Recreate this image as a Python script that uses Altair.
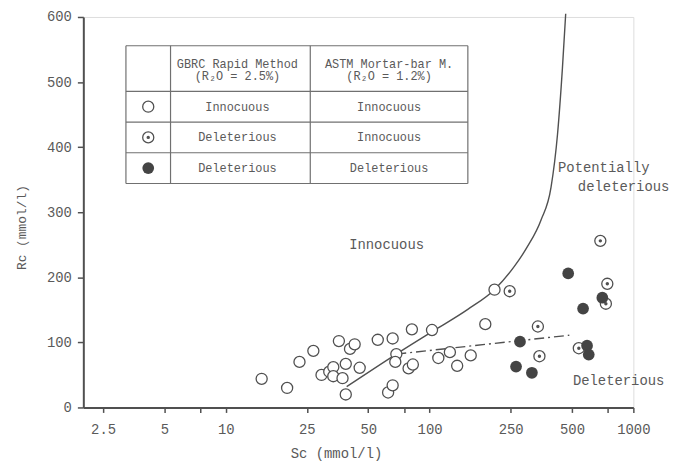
import altair as alt
import pandas as pd

# ---------------- data ----------------
open_sc = [15.0, 20.0, 23.0, 26.9, 29.5, 32.2, 33.7, 33.7, 35.9, 37.4, 38.8, 38.8, 40.7, 42.9,
           45.4, 55.7, 62.6, 65.9, 65.9, 68.7, 67.9, 81.9, 78.9, 82.8, 102.8, 110.4, 125.8,
           136.6, 159.2, 187.7, 208.3]
open_rc = [44, 30, 70, 87, 50, 55, 62, 48, 102, 45, 67, 20, 90, 97,
           61, 104, 23, 34, 106, 82, 70, 120, 60, 66, 119, 76, 85,
           64, 80, 128, 181]

dot_sc = [247.3, 340.0, 346.0, 688.6, 745.0, 733.0, 540.0]
dot_rc = [178.6, 124.4, 78.7, 256.0, 190.0, 159.4, 91.0]

fill_sc = [478.9, 566.6, 704.3, 277.8, 265.7, 317.8, 592.7, 604.0]
fill_rc = [206.0, 152.0, 168.6, 101.0, 62.9, 53.3, 94.9, 81.2]

curve_sc = [39.2, 68.7, 104.4, 154.0, 208.0, 260.6, 302.0, 352.0, 394.6, 424.5, 448.6, 465.6]
curve_rc = [32.0, 82.0, 117.7, 150.8, 181.0, 216.7, 247.0, 287.8, 338.5, 419.8, 521.0, 605.0]

dash_sc = [68.7, 485.0]
dash_rc = [82.0, 111.0]

x_tick_values = [2.5, 5, 7.5, 10, 25, 50, 75, 100, 250, 500, 750, 1000]
x_unlabelled = [7.5, 75, 750]
y_tick_values = [0, 100, 200, 300, 400, 500, 600]

header_gbrc = ["GBRC Rapid Method", "(R\u2082O = 2.5%)"]
header_astm = ["ASTM Mortar-bar M.", "(R\u2082O = 1.2%)"]
row_gbrc = ["Innocuous", "Deleterious", "Deleterious"]
row_astm = ["Innocuous", "Innocuous", "Deleterious"]

# ---------------- styling ----------------
FONT = "Liberation Mono"
INK = "#505050"
TXT = "#5a5a5a"

xscale = alt.Scale(type="log", domain=[2, 1000], nice=False)
yscale = alt.Scale(domain=[0, 600], nice=False)

unl = ",".join(str(v) for v in x_unlabelled)
xaxis = alt.Axis(values=x_tick_values, format="~g",
                 labelExpr=f"indexof([{unl}], datum.value) >= 0 ? '' : datum.label",
                 title="Sc (mmol/l)", titleX=255, titleY=46, titleBaseline="middle",
                 titleAnchor="start", titleAlign="center",
                 grid=False, tickSize=5, labelPadding=10, domainWidth=2, tickWidth=1.5,
                 domainColor=INK, tickColor=INK, labelColor=TXT, titleColor=TXT,
                 labelFont=FONT, titleFont=FONT, labelFontSize=14, titleFontSize=14,
                 titleFontWeight="normal", labelFlush=False, labelOverlap=False)
yaxis = alt.Axis(values=y_tick_values, title="Rc (mmol/l)", titleX=-62, titleY=212,
                 titleAngle=-90, titleBaseline="middle", titleAlign="center", titleAnchor="start",
                 grid=False, tickSize=6, labelPadding=6, domainWidth=2, tickWidth=1.5,
                 domainColor=INK, tickColor=INK, labelColor=TXT, titleColor=TXT,
                 labelFont=FONT, titleFont=FONT, labelFontSize=14, titleFontSize=13,
                 titleFontWeight="normal", labelFlush=False)

df_open = pd.DataFrame({"Sc": open_sc, "Rc": open_rc})
df_dot = pd.DataFrame({"Sc": dot_sc, "Rc": dot_rc})
df_fill = pd.DataFrame({"Sc": fill_sc, "Rc": fill_rc})
df_curve = pd.DataFrame({"Sc": curve_sc, "Rc": curve_rc, "o": range(len(curve_sc))})
df_dash = pd.DataFrame({"Sc": dash_sc, "Rc": dash_rc})

X = alt.X("Sc:Q", scale=xscale, axis=xaxis)
Y = alt.Y("Rc:Q", scale=yscale, axis=yaxis)
Xn = alt.X("Sc:Q", scale=xscale)
Yn = alt.Y("Rc:Q", scale=yscale)

curve = alt.Chart(df_curve).mark_line(color=INK, strokeWidth=1.4, interpolate="monotone",
                                      clip=False).encode(x=X, y=Y, order="o:Q")
dash = alt.Chart(df_dash).mark_line(color=INK, strokeWidth=1.4,
                                    strokeDash=[10, 4, 2, 4]).encode(x=Xn, y=Yn)

pt = dict(shape="circle", size=125, strokeWidth=1.3, opacity=1)
opens = alt.Chart(df_open).mark_point(filled=False, color=INK, fill="white", fillOpacity=1, **pt).encode(x=Xn, y=Yn)
dots_ring = alt.Chart(df_dot).mark_point(filled=False, color=INK, fill="white", fillOpacity=1, **pt).encode(x=Xn, y=Yn)
dots_c = alt.Chart(df_dot).mark_point(filled=True, color=INK, shape="circle", size=12, opacity=1).encode(x=Xn, y=Yn)
fills = alt.Chart(df_fill).mark_point(filled=True, color="#444444", shape="circle", size=140, opacity=1).encode(x=Xn, y=Yn)

layers = [curve, dash, opens, dots_ring, dots_c, fills]

# ---------------- legend table (pixel positions within plot) ----------------
tx0, tx1, tx2, tx3 = 43, 88, 229, 388
ty = [29, 75, 106, 137, 168]
row_c = [90.5, 121.5, 152.5]
box_src = pd.DataFrame({"k": [0]})
line_style = dict(color="#707070", strokeWidth=1.2)
for yy in ty:
    layers.append(alt.Chart(box_src).mark_rule(**line_style).encode(
        x=alt.value(tx0), x2=alt.value(tx3), y=alt.value(yy)))
for xx in [tx0, tx1, tx2, tx3]:
    layers.append(alt.Chart(box_src).mark_rule(**line_style).encode(
        x=alt.value(xx), y=alt.value(ty[0]), y2=alt.value(ty[-1])))

sym_x = (tx0 + tx1) / 2
layers.append(alt.Chart(box_src).mark_point(filled=False, color=INK, **pt).encode(
    x=alt.value(sym_x), y=alt.value(row_c[0])))
layers.append(alt.Chart(box_src).mark_point(filled=False, color=INK, **pt).encode(
    x=alt.value(sym_x), y=alt.value(row_c[1])))
layers.append(alt.Chart(box_src).mark_point(filled=True, color=INK, shape="circle", size=12, opacity=1).encode(
    x=alt.value(sym_x), y=alt.value(row_c[1])))
layers.append(alt.Chart(box_src).mark_point(filled=True, color="#444444", shape="circle", size=140, opacity=1).encode(
    x=alt.value(sym_x), y=alt.value(row_c[2])))


def txt(s, x, y, size=12, align="center"):
    return alt.Chart(box_src).mark_text(text=s, font=FONT, fontSize=size, color=TXT,
                                        align=align, baseline="middle").encode(
        x=alt.value(x), y=alt.value(y))


c2 = (tx1 + tx2) / 2
c3 = (tx2 + tx3) / 2
layers.append(txt(header_gbrc[0], c2 - 3, 47))
layers.append(txt(header_gbrc[1], c2 - 3, 60))
layers.append(txt(header_astm[0], c3, 47))
layers.append(txt(header_astm[1], c3, 60))
for i in range(3):
    layers.append(txt(row_gbrc[i], c2 - 3, row_c[i]))
    layers.append(txt(row_astm[i], c3, row_c[i]))

# region labels
layers.append(txt("Innocuous", 306, 230, size=14))
layers.append(txt("Potentially", 479, 152, size=14, align="left"))
layers.append(txt("deleterious", 499, 172, size=14, align="left"))
layers.append(txt("Deleterious", 494, 367, size=14, align="left"))

chart = alt.layer(*layers).properties(
    width=555, height=394,
    autosize=alt.AutoSizeParams(type="none"),
    padding={"left": 76, "top": 7, "right": 40, "bottom": 56},
).configure_view(stroke=None).configure(background="white")

chart.save("out.html", embed_options={"renderer": "svg", "actions": False})
